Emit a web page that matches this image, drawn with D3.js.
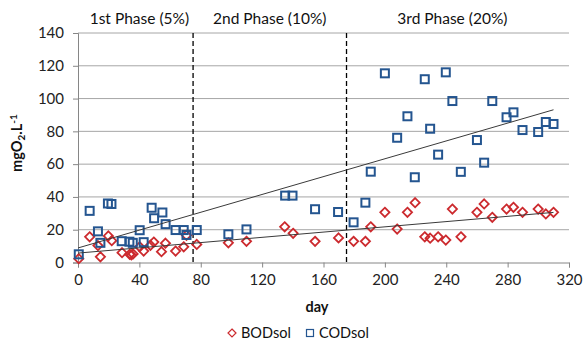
<!DOCTYPE html>
<html><head><meta charset="utf-8">
<script src="https://cdn.jsdelivr.net/npm/d3@7"></script>
<style>body{margin:0;background:#fff}svg{display:block}text{font-family:Lato,"Open Sans",sans-serif}</style>
</head><body><svg id="c" width="588" height="345"></svg>
<script>
// data
const bodDays = [0.5,7.6,13,14.6,19.8,22,28.7,33.7,34.8,35.9,40.2,42.8,47.2,49.4,54.4,57,63.6,68.9,70.7,77.4,98,109.8,134.7,140.2,154.5,169.8,179.6,187.3,190.8,200,208,214.7,219.7,226,229.5,234.7,239.7,244,249.6,260,264.7,270,279.3,283.8,289.7,299.9,304.9,309.9];
const bodVals = [2.3,15.7,10.3,3.5,16.2,13.3,6,5,4.6,5.2,9.6,7,10.5,12.5,6.6,11.8,7,9.6,16.6,11,12,12.9,21.8,17.8,12.9,15,12.9,12.9,21.8,30.6,20.4,30.6,36.5,15.7,14.8,15.7,13.7,32.6,15.7,30.6,35.7,27.6,32.6,33.7,30.6,32.6,29.6,30.6];
const codDays = [0.5,7.6,13,14.6,19.5,21.8,28.5,33.5,35.7,40.2,42.8,48,49.6,55,57.1,63.6,68.9,70.7,77.4,98,109.8,135,139.8,154.5,169.5,179.6,187.3,190.8,200,208,214.7,219.5,226,229.5,234.7,239.7,244,249.5,260,264.7,270,279.3,283.8,289.7,299.9,304.9,309.9];
const codVals = [5,31.5,19,12,36,35.7,13,12.7,12,19.7,12.4,33.4,27,30.5,23.4,19.8,19.8,16.8,19.8,17.2,20.2,40.8,40.8,32.5,30.8,24.5,36.5,55.4,115.4,76.1,89.2,52,111.8,81.6,65.8,116,98.5,55.3,74.7,60.9,98.5,88.6,91.6,80.8,79.6,85.7,84.5];
const phaseBounds = [75, 175];
const phaseLabels = ["1st Phase (5%)", "2nd Phase (10%)", "3rd Phase (20%)"];
const phaseCenters = [40, 125, 244];
const xTicks = [0,40,80,120,160,200,240,280,320];
const yTicks = [0,20,40,60,80,100,120,140];
const seriesNames = ["BODsol", "CODsol"];

const svg = d3.select("#c");
const L=78, R=569, T=33, B=262.5;
const x = d3.scaleLinear().domain([0,320]).range([L,R]);
const y = d3.scaleLinear().domain([0,140]).range([B,T]);
const RED="#cc2a2e", BLUE="#245590";

// gridlines
svg.append("g").selectAll("line").data(yTicks.filter(d=>d>0)).join("line")
  .attr("x1",L).attr("x2",R).attr("y1",d=>y(d)).attr("y2",d=>y(d))
  .attr("stroke","#a6a6a6").attr("stroke-width",1);

// axes
const yAxis = d3.axisLeft(y).tickValues(yTicks).tickSize(5).tickPadding(9);
const gy = svg.append("g").attr("transform",`translate(${L},0)`).call(yAxis);
const xAxis = d3.axisBottom(x).tickValues(xTicks).tickSize(5).tickPadding(7);
const gx = svg.append("g").attr("transform",`translate(0,${B})`).call(xAxis);
[gx,gy].forEach(g=>{
  g.select(".domain").attr("stroke","#868686");
  g.selectAll(".tick line").attr("stroke","#868686");
  g.selectAll(".tick text").attr("font-size",15).attr("fill","#222").attr("font-family","Lato,sans-serif");
});

// phase dashed lines
svg.append("g").selectAll("line").data(phaseBounds).join("line")
  .attr("x1",d=>x(d)).attr("x2",d=>x(d)).attr("y1",T).attr("y2",B)
  .attr("stroke","#000").attr("stroke-width",1.3).attr("stroke-dasharray","5,3");

svg.append("g").selectAll("text").data(phaseLabels).join("text")
  .attr("x",(d,i)=>x(phaseCenters[i])).attr("y",23.5).attr("text-anchor","middle")
  .attr("font-size",15.5).attr("fill","#111").text(d=>d);

// markers
const bod = bodDays.map((d,i)=>[d,bodVals[i]]);
const cod = codDays.map((d,i)=>[d,codVals[i]]);
const diamond = "M0,-4.6L4.6,0L0,4.6L-4.6,0Z";
svg.append("g").selectAll("path").data(bod).join("path")
  .attr("d",diamond).attr("transform",d=>`translate(${x(d[0])},${y(d[1])})`)
  .attr("fill","none").attr("stroke",RED).attr("stroke-width",1.8);
svg.append("g").selectAll("rect").data(cod).join("rect")
  .attr("x",d=>x(d[0])-4).attr("y",d=>y(d[1])-4).attr("width",8).attr("height",8)
  .attr("fill","none").attr("stroke",BLUE).attr("stroke-width",2);

// linear trend lines (least squares)
function fit(pts){
  const mx=d3.mean(pts,p=>p[0]), my=d3.mean(pts,p=>p[1]);
  let sxy=0,sxx=0; pts.forEach(p=>{sxy+=(p[0]-mx)*(p[1]-my);sxx+=(p[0]-mx)**2;});
  const b=sxy/sxx; return [my-b*mx,b];
}
[bod,cod].forEach(pts=>{
  const [a,b]=fit(pts); const x0=0, x1=d3.max(pts,p=>p[0]);
  svg.append("line").attr("x1",x(x0)).attr("y1",y(a+b*x0)).attr("x2",x(x1)).attr("y2",y(a+b*x1))
    .attr("stroke","#3a3a3a").attr("stroke-width",1);
});

// axis titles
svg.append("text").attr("x",317).attr("y",312).attr("text-anchor","middle")
  .attr("font-size",14.5).attr("font-weight","bold").attr("fill","#111").text("day");
const yt = svg.append("text").attr("transform","translate(22,143) rotate(-90)")
  .attr("text-anchor","middle").attr("font-size",14.5).attr("font-weight","bold").attr("fill","#111");
yt.append("tspan").text("mgO");
yt.append("tspan").attr("font-size",10).attr("dy",3).text("2");
yt.append("tspan").attr("dy",-3).text(".L");
yt.append("tspan").attr("font-size",10).attr("dy",-5).text("-1");

// legend
const lg = svg.append("g");
lg.append("path").attr("d","M0,-4L4,0L0,4L-4,0Z").attr("transform","translate(232,333)")
  .attr("fill","none").attr("stroke",RED).attr("stroke-width",1.2);
lg.append("text").attr("x",241).attr("y",338).attr("font-size",14.5).attr("fill","#111").text(seriesNames[0]);
lg.append("rect").attr("x",306.5).attr("y",329.5).attr("width",7).attr("height",7)
  .attr("fill","none").attr("stroke",BLUE).attr("stroke-width",1.2);
lg.append("text").attr("x",319).attr("y",338).attr("font-size",14.5).attr("fill","#111").text(seriesNames[1]);
</script></body></html>
